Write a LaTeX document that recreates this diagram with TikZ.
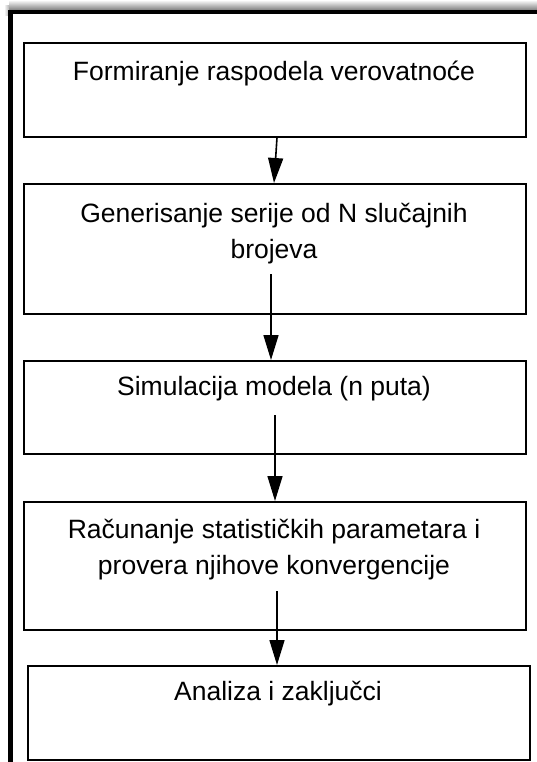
\documentclass[tikz,border=0pt]{standalone}
\usepackage{fontspec}
\setmainfont{Liberation Sans}
\usetikzlibrary{arrows.meta}
\begin{document}
\begin{tikzpicture}[x=1pt,y=-1pt,
  box/.style={draw=black,line width=1.6pt,inner sep=0pt,minimum width=502pt,anchor=north west},
  lbl/.style={font=\fontsize{26.5}{36}\selectfont,align=center,anchor=base,inner sep=0pt},
  flow/.style={line width=1.6pt,-{Triangle[width=15pt,length=25pt]}}]
\useasboundingbox (0,0) rectangle (537,762);
% shadow above the frame
\shade[top color=white,bottom color=black!50] (9,0) rectangle (537,10);
\shade[left color=white,right color=black!30] (4,6) rectangle (9,16);
% outer frame
\draw[line width=4.6pt] (10.5,770) -- (10.5,12) -- (545,12);
% boxes
\node[box,minimum height=94pt] (b1) at (23,42) {};
\node[box,minimum height=130pt] (b2) at (23,183) {};
\node[box,minimum height=93pt] (b3) at (23,360) {};
\node[box,minimum height=128pt] (b4) at (23,501) {};
\node[box,minimum height=94pt] (b5) at (27,665) {};
% texts
\node[lbl] (t1) at (274,81) {Formiranje raspodela verovatnoće};
\node[lbl] (t2) at (274,258) {Generisanje serije od N slučajnih\\brojeva};
\node[lbl] (t3) at (274,395) {Simulacija modela (n puta)};
\node[lbl] (t4) at (274,574) {Računanje statističkih parametara i\\provera njihove konvergencije};
\node[lbl] (t5) at (278,700) {Analiza i zaključci};
% arrow start points
\coordinate (s1) at (277,136);
\coordinate (e1) at (274,183);
\coordinate (s2) at (271,274);
\coordinate (s3) at (275,415);
\coordinate (s4) at (277,591);
\draw[flow] (s1 |- b1.south) -- (e1 |- b2.north);
\draw[flow] (s2) -- (s2 |- b3.north);
\draw[flow] (s3) -- (s3 |- b4.north);
\draw[flow] (s4) -- (s4 |- b5.north);
\end{tikzpicture}
\end{document}
